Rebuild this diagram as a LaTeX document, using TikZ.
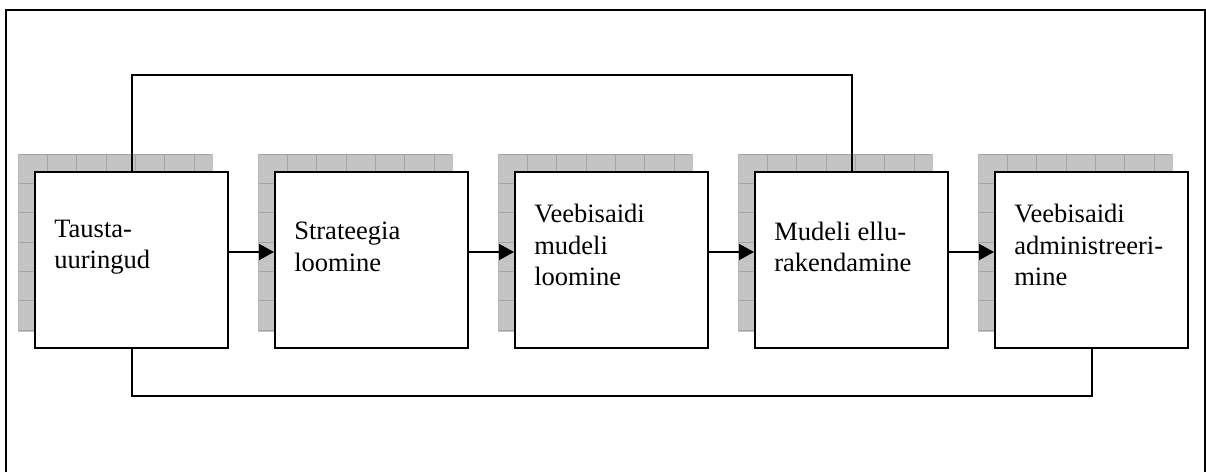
\documentclass[tikz,border=0pt]{standalone}
\usepackage{fontspec}
\setmainfont{Liberation Serif}
\usetikzlibrary{arrows.meta,positioning,backgrounds}
\definecolor{ShadowGray}{HTML}{C4C4C4}
\definecolor{GridGray}{HTML}{A4A4A4}

\begin{document}
\begin{tikzpicture}[
      x=0.75pt,y=-0.75pt,
      node distance=33.75pt,
      phase/.style={draw,line width=1.5pt,fill=white,
                    minimum width=144.75pt,minimum height=132pt,inner sep=0pt},
      phasetext/.style={anchor=west,align=left,inner sep=0pt,
                    font=\fontsize{19.9pt}{23.7pt}\selectfont},
      arr/.style={-{Triangle[length=11.25pt,width=12pt]},line width=1.5pt},
      link/.style={line width=1.5pt},
    ]
    \useasboundingbox (0,0) rectangle (1206,472);
    \draw[line width=1.5pt] (6,472) -- (6,10) -- (1205,10) -- (1205,472);

    \node[phase] (taust) at (131.5,260) {};
    \node[phase,right=of taust] (strat) {};
    \node[phase,right=of strat] (mudel) {};
    \node[phase,right=of mudel] (ellu)  {};
    \node[phase,right=of ellu]  (admin) {};

    \node[phasetext] (taust-t) at ([shift={(20,-13)}]taust.west) {Tausta-\\uuringud};
    \node[phasetext] (strat-t) at ([shift={(20,-13)}]strat.west) {Strateegia\\loomine};
    \node[phasetext] (mudel-t) at ([shift={(20,-15)}]mudel.west) {Veebisaidi\\mudeli\\loomine};
    \node[phasetext] (ellu-t)  at ([shift={(20,-13)}]ellu.west)  {Mudeli ellu-\\rakendamine};
    \node[phasetext] (admin-t) at ([shift={(20,-15)}]admin.west) {Veebisaidi\\administreeri-\\mine};

    % hatched shadows behind the boxes
    \begin{scope}[on background layer]
      \foreach \b in {taust,strat,mudel,ellu,admin} {
        \fill[ShadowGray] ([shift={(-16,-17)}]\b.south west) rectangle ([shift={(-16,-17)}]\b.north east);
        \begin{scope}[shift={([shift={(-16,-17)}]\b.north west)}]
          \clip (0.5,0.5) rectangle (193,176);
          \draw[GridGray,line width=0.75pt,step=22pt] (0,0) grid (194,177);
        \end{scope}
      }
    \end{scope}

    \foreach \a/\b in {taust/strat,strat/mudel,mudel/ellu,ellu/admin}
      \draw[arr] ([yshift=6pt]\a.east) -- ([yshift=6pt]\b.west);

    \coordinate (topline) at (0,75);
    \coordinate (botline) at (0,396);
    \draw[link] (taust.north) -- (taust.north |- topline) -| (ellu.north);
    \draw[link] (taust.south) -- (taust.south |- botline) -| (admin.south);
  \end{tikzpicture}
\end{document}
